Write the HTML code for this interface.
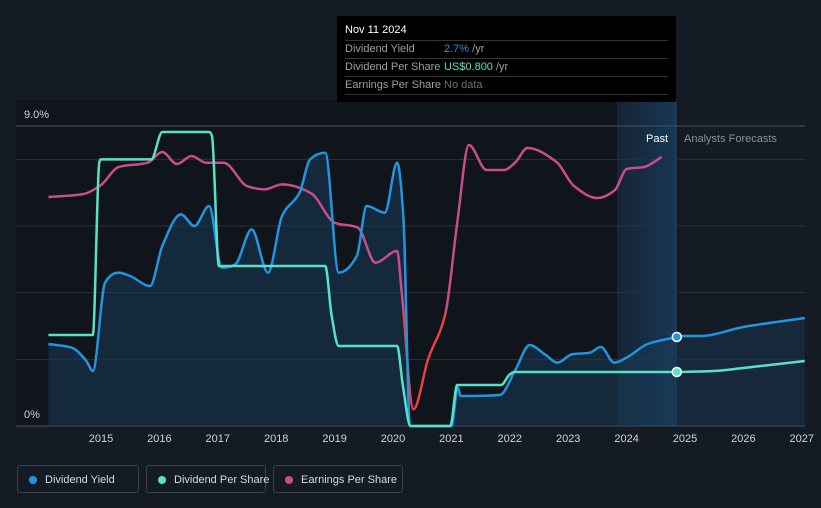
<!DOCTYPE html>
<html><head><meta charset="utf-8"><style>
body{margin:0;background:#151b24;width:821px;height:508px;overflow:hidden;font-family:"Liberation Sans",sans-serif}
svg{position:absolute;left:0;top:0}
.leg{position:absolute;top:465px;height:28px;border:1px solid #3a414c;border-radius:3px;color:#d8dbe0;font-size:11px;line-height:28px;box-sizing:border-box;padding-left:27px;white-space:nowrap}
.leg i{position:absolute;left:11px;top:10px;width:8px;height:8px;border-radius:50%}
.tip{position:absolute;left:337px;top:16px;width:339px;height:86px;background:#000;font-size:11px;color:#9aa0a8}
.row{position:absolute;left:8px;right:8px;height:17px;border-top:1px solid #333;line-height:17px;white-space:nowrap}
</style></head><body>
<svg width="821" height="508" id="chart">
<defs>
<clipPath id="clipTop"><rect x="0" y="0" width="821" height="313"/></clipPath>
<clipPath id="clipBot"><rect x="0" y="313" width="821" height="200"/></clipPath>
<linearGradient id="pastg" x1="0" x2="1"><stop offset="0" stop-color="#163048" stop-opacity="0.5"/><stop offset="1" stop-color="#173b5c" stop-opacity="0.9"/></linearGradient>
</defs>
<rect x="16" y="100" width="601" height="326" fill="#10141b"/>
<rect x="617" y="100" width="59" height="326" fill="url(#pastg)"/>
<line x1="676" y1="100" x2="676" y2="426" stroke="#1f4a70" stroke-width="1"/>
<g id="grid"></g>
<g id="marks"></g>
<text x="24" y="118" fill="#d0d3d8" font-size="11">9.0%</text>
<text x="24" y="418" fill="#d0d3d8" font-size="11">0%</text>
<text x="668" y="142" fill="#fff" font-size="11" text-anchor="end">Past</text>
<text x="684" y="142" fill="#8a9099" font-size="11">Analysts Forecasts</text>
<g id="xt"></g>
</svg>
<div class="tip">
<div style="position:absolute;left:8px;top:8px;color:#fff">Nov 11 2024</div>
<div class="row" style="top:24px">Dividend Yield<span style="position:absolute;left:99px"><span style="color:#2394df">2.7%</span> /yr</span></div>
<div class="row" style="top:42px">Dividend Per Share<span style="position:absolute;left:99px"><span style="color:#58e1c9">US$0.800</span> /yr</span></div>
<div class="row" style="top:60px;border-bottom:1px solid #333">Earnings Per Share<span style="position:absolute;left:99px;color:#6c7079">No data</span></div>
</div>
<div class="leg" style="left:17px;width:122px"><i style="background:#2394df"></i>Dividend Yield</div>
<div class="leg" style="left:146px;width:120px"><i style="background:#58e1c9"></i>Dividend Per Share</div>
<div class="leg" style="left:273px;width:130px"><i style="background:#c94c8c"></i>Earnings Per Share</div>
<script>
const years=[2015,2016,2017,2018,2019,2020,2021,2022,2023,2024,2025,2026,2027];
const gridVals=[9,8,6,4,2];
const yieldT=[2014.1,2014.5,2014.75,2014.86,2015.07,2015.3,2015.5,2015.84,2016.05,2016.37,2016.6,2016.85,2017.07,2017.3,2017.58,2017.86,2018.1,2018.4,2018.58,2018.84,2019.07,2019.38,2019.55,2019.86,2020.07,2020.18,2020.29,2020.6,2021.0,2021.11,2021.16,2021.83,2022.1,2022.34,2022.6,2022.82,2023.06,2023.37,2023.56,2023.79,2024.0,2024.36,2024.86];
const yieldV=[2.46,2.35,1.95,1.65,4.3,4.6,4.5,4.2,5.4,6.35,6.0,6.6,4.75,4.85,5.9,4.6,6.3,7.0,8.0,8.2,4.6,5.1,6.6,6.4,7.9,6.2,0,0,0,1.15,0.9,0.93,1.7,2.43,2.15,1.9,2.15,2.2,2.37,1.9,2.05,2.46,2.67];
const yieldFT=[2024.86,2025.0,2025.26,2026.0,2027.05];
const yieldFV=[2.67,2.7,2.7,2.97,3.24];
const dpsT=[2014.1,2014.86,2014.97,2015.0,2015.86,2016.05,2016.85,2016.9,2017.02,2018.84,2018.95,2019.07,2020.07,2020.17,2020.3,2020.98,2021.1,2021.85,2022.0,2022.08,2024.86];
const dpsV=[2.73,2.73,7.9,8.0,8.0,8.82,8.82,8.7,4.8,4.8,3.3,2.4,2.4,1.2,0,0,1.23,1.23,1.55,1.62,1.62];
const dpsFT=[2024.86,2025.5,2026.0,2027.05];
const dpsFV=[1.62,1.65,1.74,1.95];
const epsT=[2014.1,2014.7,2015.0,2015.3,2015.8,2016.05,2016.3,2016.55,2016.8,2017.1,2017.5,2017.8,2018.1,2018.6,2019.0,2019.4,2019.7,2020.07,2020.15,2020.35,2020.6,2020.9,2021.1,2021.3,2021.6,2021.9,2022.1,2022.3,2022.8,2023.1,2023.5,2023.8,2024.0,2024.3,2024.6];
const epsV=[6.87,6.96,7.23,7.77,7.9,8.22,7.86,8.1,7.9,7.9,7.2,7.1,7.25,6.98,6.1,5.95,4.9,5.25,4.0,0.5,2.0,3.4,6.1,8.43,7.68,7.68,7.92,8.34,7.92,7.2,6.84,7.08,7.71,7.77,8.07];
const X=t=>101+(t-2015)*58.4, Y=v=>426-v*33.33;
const NS='http://www.w3.org/2000/svg';
function path(T,V){const p=T.map((t,i)=>[X(t),Y(V[i])]);const n=p.length;
 const d=[],m=new Array(n);
 for(let i=0;i<n-1;i++)d.push((p[i+1][1]-p[i][1])/(p[i+1][0]-p[i][0]));
 m[0]=d[0];m[n-1]=d[n-2];
 for(let i=1;i<n-1;i++){m[i]=(d[i-1]*d[i]<=0)?0:(3*(d[i-1]+d[i]))/((2+d[i]/d[i-1])+(2+d[i-1]/d[i]));}
 let s='M'+p[0];
 for(let i=0;i<n-1;i++){const h=(p[i+1][0]-p[i][0])/3;
 s+='C'+(p[i][0]+h)+','+(p[i][1]+m[i]*h)+' '+(p[i+1][0]-h)+','+(p[i+1][1]-m[i+1]*h)+' '+p[i+1];}
 return s;}
function el(tag,attrs,parent){const e=document.createElementNS(NS,tag);for(const k in attrs)e.setAttribute(k,attrs[k]);document.getElementById(parent).appendChild(e);return e;}
gridVals.forEach(v=>{const l=el('line',{x1:16,x2:805,y1:Y(v),y2:Y(v),stroke:v==9?'#4a5059':'#2a313b','stroke-width':1},'grid');

});
const ax=el('line',{x1:16,x2:805,y1:426,y2:426,stroke:'#4a5059'},'grid');


years.forEach(y=>{const t=el('text',{x:X(y),y:442,fill:'#d0d3d8','font-size':11,'text-anchor':'middle'},'xt');t.textContent=y;

});
const yp=path(yieldT,yieldV), yfp=path(yieldFT,yieldFV);
const a1=el('path',{d:yp+'L'+X(2024.86)+',426L'+X(yieldT[0])+',426Z',fill:'#1a3a58','fill-opacity':0.55},'marks');


const a2=el('path',{d:yfp+'L'+X(2027.05)+',426L'+X(2024.86)+',426Z',fill:'#1a3a58','fill-opacity':0.45},'marks');


const st={fill:'none','stroke-width':2.5,'stroke-linejoin':'round'};
const e1=el('path',Object.assign({d:path(epsT,epsV),stroke:'#c94c8c','clip-path':'url(#clipTop)'},st),'marks');


const e2=el('path',Object.assign({d:path(epsT,epsV),stroke:'#e8413f','clip-path':'url(#clipBot)'},st),'marks');


const l1=el('path',Object.assign({d:yp,stroke:'#2394df'},st),'marks');


const l2=el('path',Object.assign({d:yfp,stroke:'#2394df'},st),'marks');


const l3=el('path',Object.assign({d:path(dpsT,dpsV),stroke:'#58e1c9'},st),'marks');


const l4=el('path',Object.assign({d:path(dpsFT,dpsFV),stroke:'#58e1c9'},st),'marks');


const c1=el('circle',{cx:X(2024.86),cy:Y(yieldV[yieldV.length-1]),r:4.5,fill:'#2394df',stroke:'#fff','stroke-width':1.5},'marks');


const c2=el('circle',{cx:X(2024.86),cy:Y(dpsV[dpsV.length-1]),r:4.5,fill:'#58e1c9',stroke:'#fff','stroke-width':1.5},'marks');


</script>
</body></html>
